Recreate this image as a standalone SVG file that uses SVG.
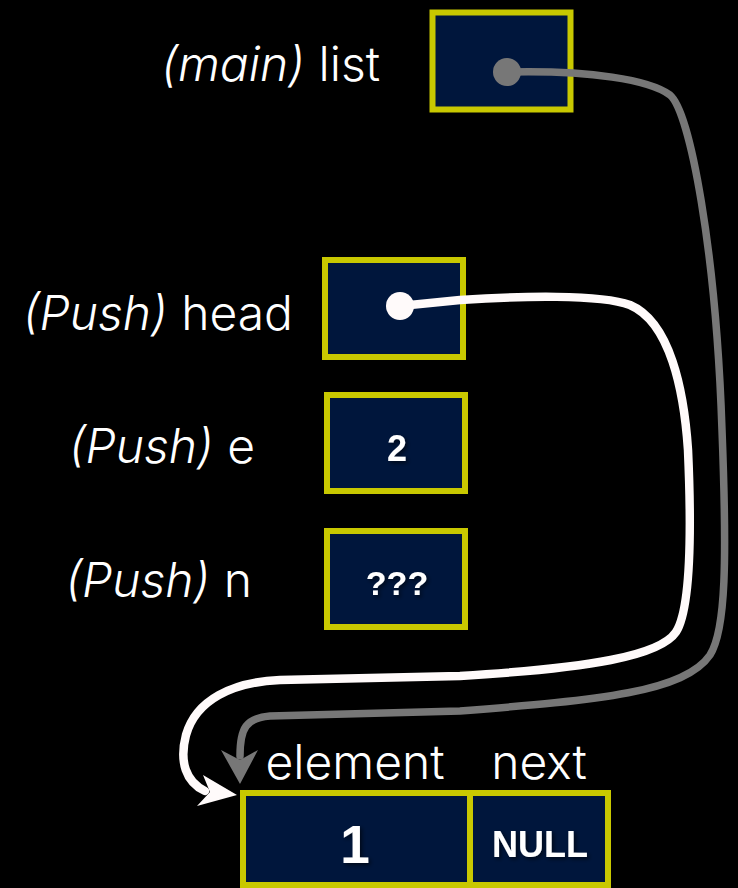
<svg xmlns="http://www.w3.org/2000/svg" width="738" height="888" viewBox="0 0 738 888">
<style>
.box{fill:#00163c;stroke:#c8c800;stroke-width:6}
.lbl{font-family:Inter,Roboto,"Liberation Sans",sans-serif;font-weight:300;font-size:48px;fill:#ffffff}
.it{font-style:italic}
.val{font-family:"Liberation Sans",Arial,sans-serif;font-weight:bold;fill:#ffffff;text-anchor:middle}
.gray{fill:none;stroke:#777777;stroke-width:7.5;stroke-linecap:round;stroke-linejoin:round}
.white{fill:none;stroke:#fffafa;stroke-width:8.5;stroke-linecap:round;stroke-linejoin:round}
</style>
<defs>
<filter id="sh" x="-50%" y="-50%" width="200%" height="200%">
<feDropShadow dx="2" dy="2" stdDeviation="2" flood-color="#000000" flood-opacity="0.6"/>
</filter>
</defs>
<rect width="738" height="888" fill="#000000"/>

<g id="main-list">
<text class="lbl" x="380" y="81" text-anchor="end"><tspan class="it">(main)</tspan> list</text>
<rect class="box" x="432.5" y="12.5" width="138" height="97"/>
</g>

<g id="push-head">
<text class="lbl" x="293" y="330" text-anchor="end"><tspan class="it">(Push)</tspan> head</text>
<rect class="box" x="325" y="260" width="138" height="97"/>
</g>

<g id="push-e">
<text class="lbl" x="255" y="463" text-anchor="end"><tspan class="it">(Push)</tspan> e</text>
<rect class="box" x="327" y="395" width="138" height="96"/>
<text class="val" x="397" y="461" font-size="36" filter="url(#sh)">2</text>
</g>

<g id="push-n">
<text class="lbl" x="252" y="597" text-anchor="end"><tspan class="it">(Push)</tspan> n</text>
<rect class="box" x="327" y="531" width="138" height="96"/>
<text class="val" x="397" y="595" font-size="34" filter="url(#sh)">???</text>
</g>

<g id="node">
<text class="lbl" x="355" y="779" text-anchor="middle">element</text>
<text class="lbl" x="539" y="779" text-anchor="middle">next</text>
<rect class="box" x="243" y="793" width="227" height="92"/>
<rect class="box" x="470" y="793" width="138" height="92"/>
<text class="val" x="355" y="863" font-size="53" filter="url(#sh)">1</text>
<text class="val" x="540" y="857" font-size="36" filter="url(#sh)">NULL</text>
</g>

<g id="connectors">
<path class="gray" d="M507,72 C590,70 650,80 670,95 C690,112 716,250 722,430 C727,560 726,630 710,655 C685,692 600,700 460,711 L270,716 C246,718 240,728 240,756"/>
<polygon points="221,750 240,760 258,750 240,784" fill="#777777"/>
<circle cx="507" cy="72" r="14" fill="#777777"/>

<path class="white" d="M400,306 L460,300 C520,296 600,294 630,305 C670,322 684,390 688,450 C692,540 690,610 676,632 C660,656 590,668 460,676 L280,680 C232,682 196,700 186,735 C179,762 186,782 205,791"/>
<polygon points="203,775 210,792 197,806 237,795" fill="#fffafa"/>
<circle cx="400" cy="306" r="14" fill="#fffafa"/>
</g>
</svg>
